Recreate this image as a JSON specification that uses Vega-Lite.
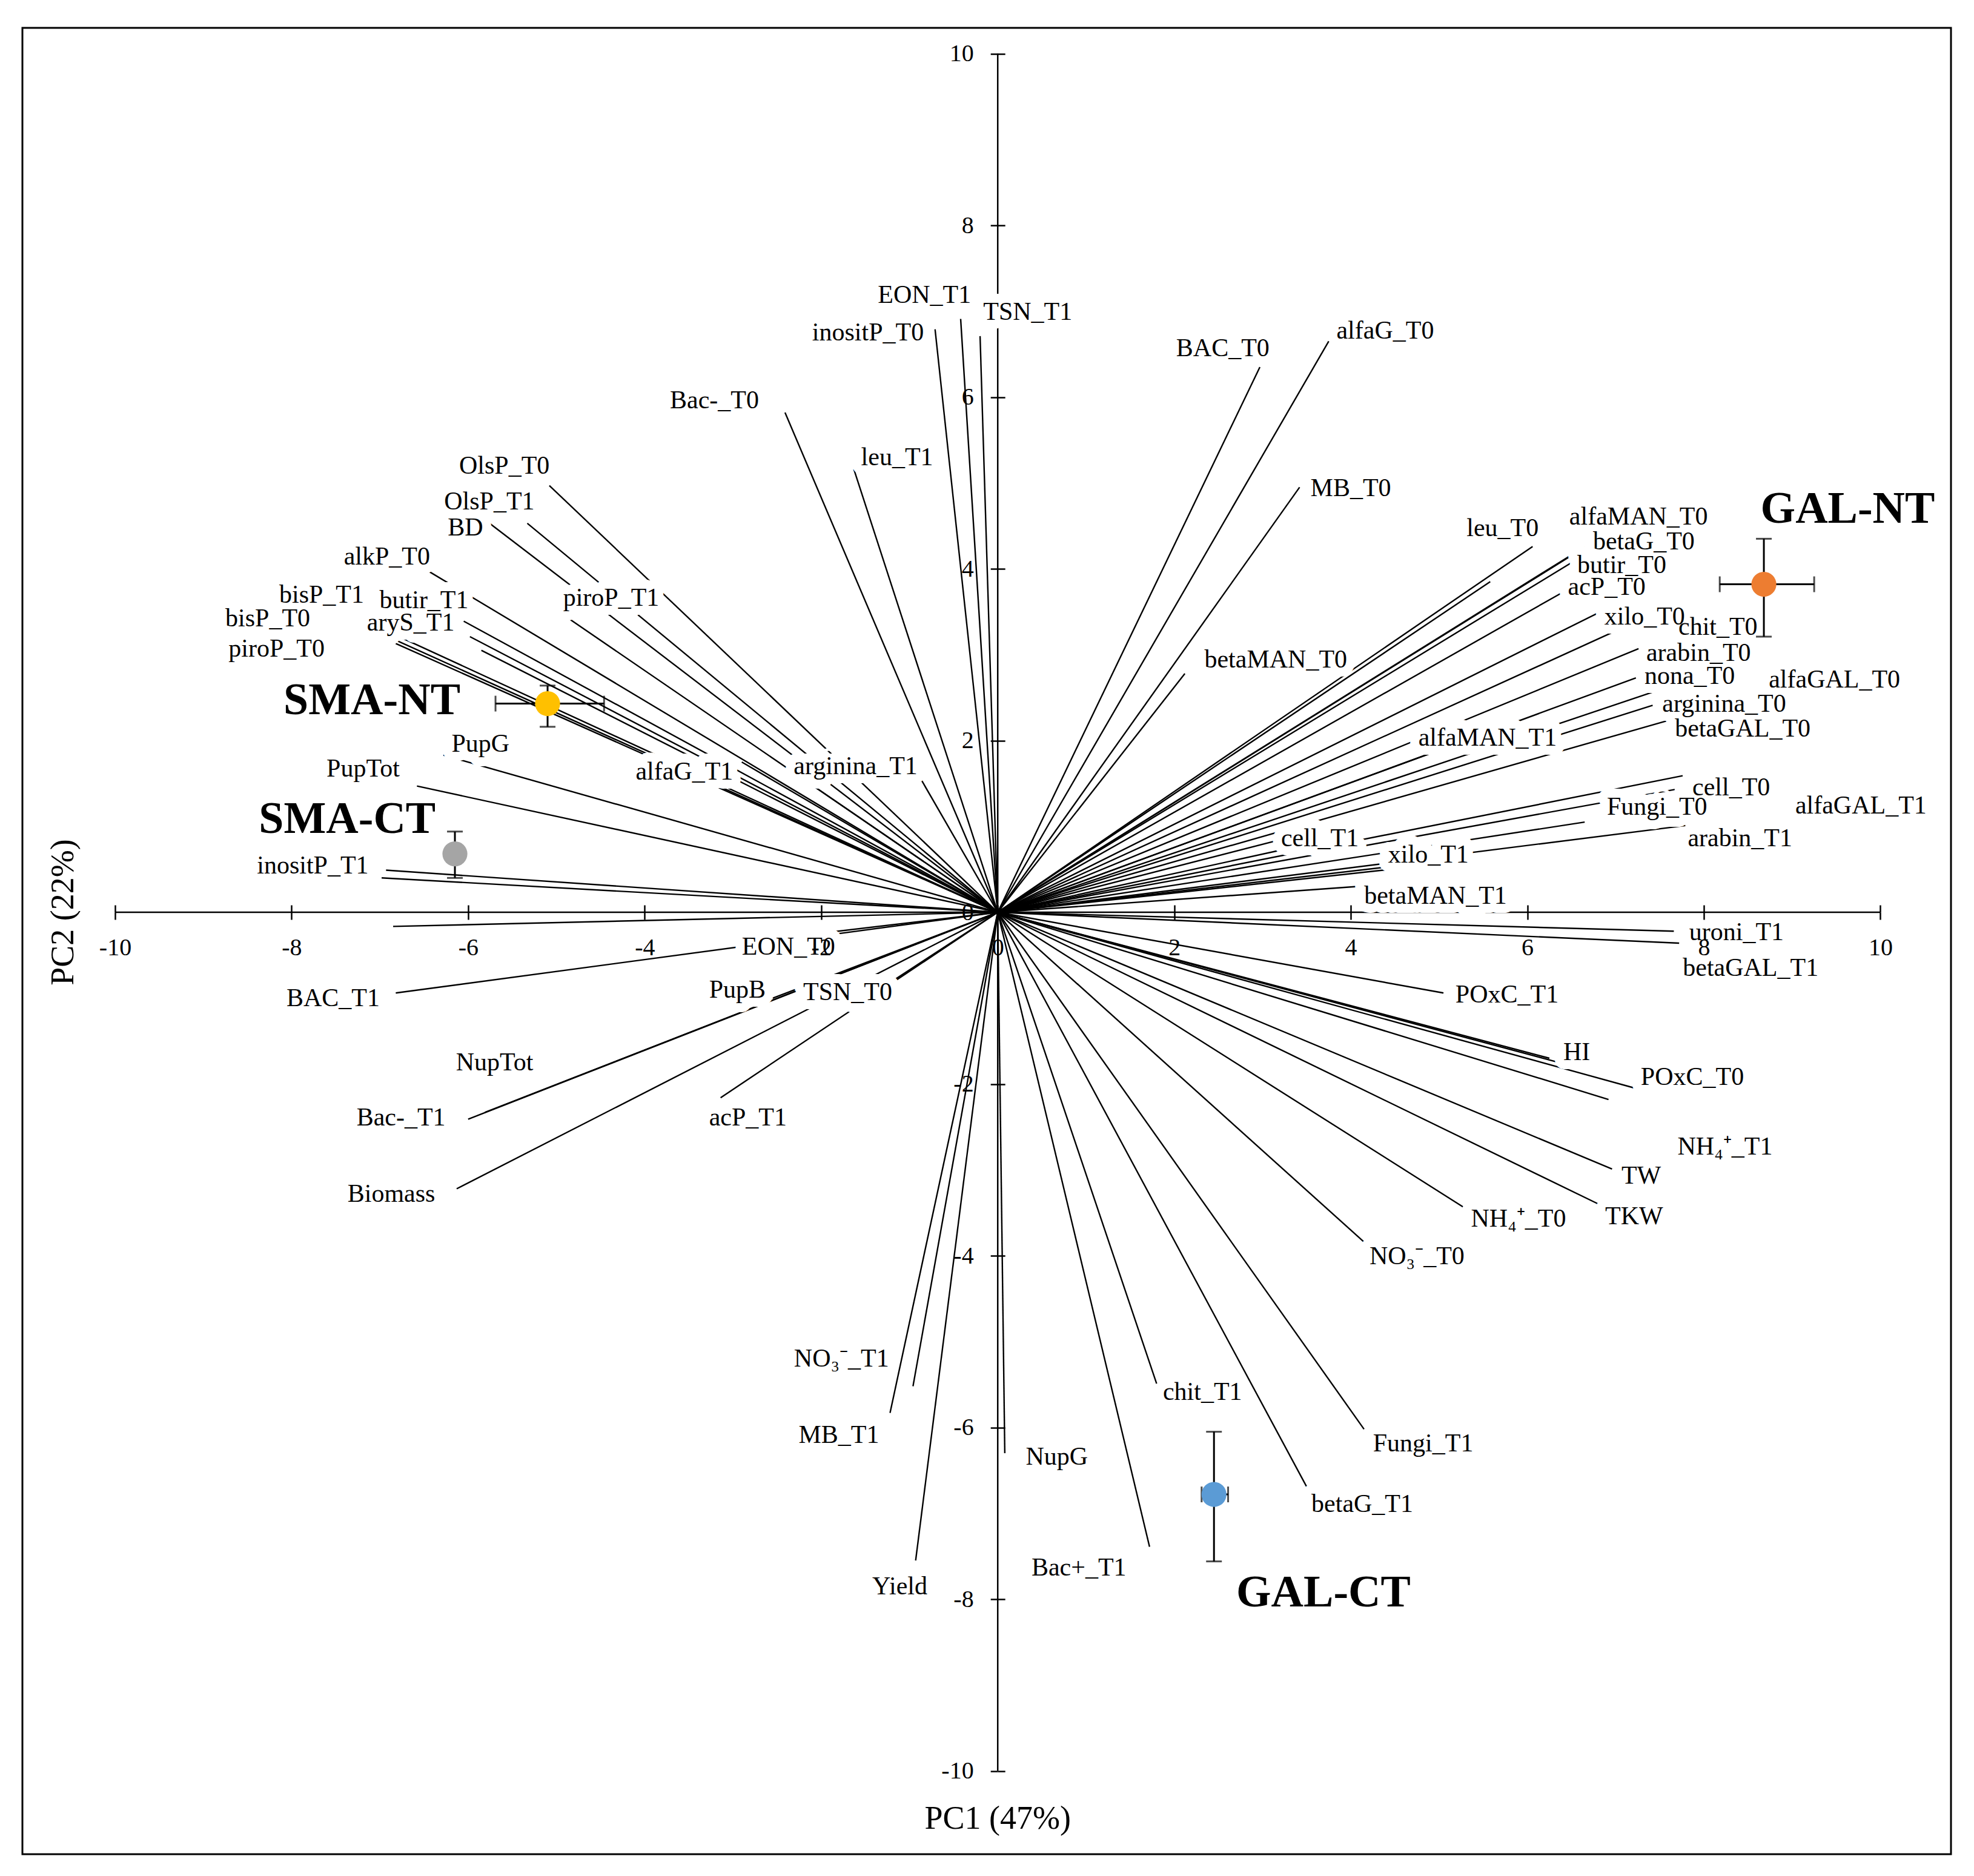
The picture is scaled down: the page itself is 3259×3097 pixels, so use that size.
{
  "$schema": "https://vega.github.io/schema/vega-lite/v6.json",
  "width": 3184,
  "height": 3015,
  "autosize": {"type": "none"},
  "padding": {"left": 37, "top": 46, "right": 38, "bottom": 36},
  "background": "white",
  "config": {
    "view": {"stroke": "black", "strokeWidth": 3},
    "font": "Liberation Serif",
    "axis": {"domain": false, "grid": false, "ticks": true, "tickSize": 12, "tickWidth": 2.5, "tickColor": "black", "labelFont": "Liberation Serif", "labelFontSize": 40, "labelColor": "black", "title": null, "labelOverlap": false, "labelFlush": false, "labelBound": false, "zindex": 2}
  },
  "resolve": {"axis": {"x": "independent", "y": "independent"}},
  "datasets": {
    "axislines": [
      {"x1": -10, "x2": 10, "y1": 0, "y2": 0},
      {"x1": 0, "x2": 0, "y1": -10, "y2": 10}
    ],
    "titles": [
      {"title": "PC1 (47%)", "x": 0, "y": -10.56, "angle": 0},
      {"title": "PC2 (22%)", "x": -10.58, "y": 0, "angle": 270}
    ],
    "vectors": [
      {"var": "OlsP_T0", "x": -5.08, "y": 4.97},
      {"var": "OlsP_T1", "x": -5.33, "y": 4.53},
      {"var": "BD", "x": -5.77, "y": 4.54},
      {"var": "alkP_T0", "x": -6.51, "y": 4.01},
      {"var": "bisP_T1", "x": -6.74, "y": 3.19},
      {"var": "bisP_T0", "x": -6.80, "y": 3.16},
      {"var": "piroP_T0", "x": -6.82, "y": 3.13},
      {"var": "butir_T1", "x": -6.05, "y": 3.39},
      {"var": "aryS_T1", "x": -5.98, "y": 3.21},
      {"var": "unlabelled_1", "x": -5.85, "y": 3.05},
      {"var": "piroP_T1", "x": -4.93, "y": 3.47},
      {"var": "PupG", "x": -6.28, "y": 1.83},
      {"var": "PupTot", "x": -6.58, "y": 1.47},
      {"var": "alfaG_T1", "x": -2.90, "y": 1.75},
      {"var": "unlabelled_2", "x": -2.30, "y": 1.62},
      {"var": "arginina_T1", "x": -0.87, "y": 1.55},
      {"var": "inositP_T1", "x": -6.93, "y": 0.49},
      {"var": "unlabelled_3", "x": -6.98, "y": 0.40},
      {"var": "Bac-_T0", "x": -2.41, "y": 5.82},
      {"var": "leu_T1", "x": -1.63, "y": 5.16},
      {"var": "inositP_T0", "x": -0.71, "y": 6.79},
      {"var": "EON_T1", "x": -0.42, "y": 6.91},
      {"var": "TSN_T1", "x": -0.20, "y": 6.71},
      {"var": "BAC_T0", "x": 2.97, "y": 6.35},
      {"var": "alfaG_T0", "x": 3.75, "y": 6.65},
      {"var": "MB_T0", "x": 3.42, "y": 4.95},
      {"var": "betaMAN_T0", "x": 2.12, "y": 2.78},
      {"var": "leu_T0", "x": 6.06, "y": 4.26},
      {"var": "unlabelled_4", "x": 5.58, "y": 3.85},
      {"var": "alfaMAN_T0", "x": 6.65, "y": 4.25},
      {"var": "betaG_T0", "x": 6.56, "y": 4.20},
      {"var": "butir_T0", "x": 6.53, "y": 4.09},
      {"var": "acP_T0", "x": 6.39, "y": 3.72},
      {"var": "xilo_T0", "x": 6.81, "y": 3.49},
      {"var": "chit_T0", "x": 7.03, "y": 3.29},
      {"var": "arabin_T0", "x": 7.26, "y": 3.07},
      {"var": "nona_T0", "x": 7.23, "y": 2.73},
      {"var": "alfaGAL_T0", "x": 7.44, "y": 2.57},
      {"var": "arginina_T0", "x": 7.42, "y": 2.41},
      {"var": "betaGAL_T0", "x": 7.65, "y": 2.25},
      {"var": "alfaMAN_T1", "x": 5.30, "y": 2.00},
      {"var": "cell_T0", "x": 7.76, "y": 1.59},
      {"var": "alfaGAL_T1", "x": 7.67, "y": 1.43},
      {"var": "Fungi_T0", "x": 6.65, "y": 1.05},
      {"var": "arabin_T1", "x": 7.79, "y": 1.01},
      {"var": "cell_T1", "x": 3.60, "y": 0.95},
      {"var": "unlabelled_5", "x": 3.90, "y": 0.88},
      {"var": "xilo_T1", "x": 4.60, "y": 0.55},
      {"var": "unlabelled_6", "x": 4.45, "y": 0.50},
      {"var": "betaMAN_T1", "x": 4.07, "y": 0.30},
      {"var": "uroni_T1", "x": 7.66, "y": -0.22},
      {"var": "betaGAL_T1", "x": 7.72, "y": -0.36},
      {"var": "POxC_T1", "x": 5.05, "y": -0.94},
      {"var": "HI", "x": 6.36, "y": -1.75},
      {"var": "unlabelled_7", "x": 6.25, "y": -1.70},
      {"var": "POxC_T0", "x": 7.26, "y": -2.06},
      {"var": "NH4+_T1", "x": 6.92, "y": -2.18},
      {"var": "TW", "x": 6.96, "y": -2.99},
      {"var": "TKW", "x": 6.81, "y": -3.40},
      {"var": "NH4+_T0", "x": 5.27, "y": -3.43},
      {"var": "NO3-_T0", "x": 4.15, "y": -3.84},
      {"var": "chit_T1", "x": 1.80, "y": -5.49},
      {"var": "Fungi_T1", "x": 4.15, "y": -6.02},
      {"var": "betaG_T1", "x": 3.51, "y": -6.71},
      {"var": "Bac+_T1", "x": 1.72, "y": -7.39},
      {"var": "NupG", "x": 0.08, "y": -6.30},
      {"var": "EON_T0", "x": -2.30, "y": -0.28},
      {"var": "unlabelled_8", "x": -6.85, "y": -0.165},
      {"var": "BAC_T1", "x": -6.82, "y": -0.94},
      {"var": "PupB", "x": -2.55, "y": -1.00},
      {"var": "TSN_T0", "x": -1.25, "y": -0.84},
      {"var": "NupTot", "x": -5.81, "y": -2.33},
      {"var": "Bac-_T1", "x": -6.00, "y": -2.41},
      {"var": "Biomass", "x": -6.13, "y": -3.22},
      {"var": "acP_T1", "x": -3.14, "y": -2.16},
      {"var": "NO3-_T1", "x": -0.96, "y": -5.52},
      {"var": "MB_T1", "x": -1.22, "y": -5.83},
      {"var": "Yield", "x": -0.93, "y": -7.55}
    ],
    "labels": [
      {"label": "OlsP_T0", "x": -5.59, "y": 5.20},
      {"label": "OlsP_T1", "x": -5.76, "y": 4.78},
      {"label": "BD", "x": -6.03, "y": 4.48},
      {"label": "alkP_T0", "x": -6.92, "y": 4.14},
      {"label": "bisP_T1", "x": -7.66, "y": 3.70},
      {"label": "butir_T1", "x": -6.50, "y": 3.63},
      {"label": "bisP_T0", "x": -8.27, "y": 3.42},
      {"label": "aryS_T1", "x": -6.65, "y": 3.37},
      {"label": "piroP_T0", "x": -8.17, "y": 3.07},
      {"label": "piroP_T1", "x": -4.38, "y": 3.66},
      {"label": "PupG", "x": -5.86, "y": 1.96},
      {"label": "PupTot", "x": -7.19, "y": 1.67},
      {"label": "alfaG_T1", "x": -3.55, "y": 1.64},
      {"label": "arginina_T1", "x": -1.61, "y": 1.70},
      {"label": "inositP_T1", "x": -7.76, "y": 0.54},
      {"label": "Bac-_T0", "x": -3.21, "y": 5.96},
      {"label": "leu_T1", "x": -1.14, "y": 5.30},
      {"label": "inositP_T0", "x": -1.47, "y": 6.75},
      {"label": "EON_T1", "x": -0.83, "y": 7.19},
      {"label": "TSN_T1", "x": 0.34, "y": 6.99},
      {"label": "BAC_T0", "x": 2.55, "y": 6.57},
      {"label": "alfaG_T0", "x": 4.39, "y": 6.77},
      {"label": "MB_T0", "x": 4.00, "y": 4.94},
      {"label": "leu_T0", "x": 5.72, "y": 4.47},
      {"label": "alfaMAN_T0", "x": 7.26, "y": 4.61},
      {"label": "betaG_T0", "x": 7.32, "y": 4.32},
      {"label": "butir_T0", "x": 7.07, "y": 4.04},
      {"label": "acP_T0", "x": 6.90, "y": 3.79},
      {"label": "xilo_T0", "x": 7.33, "y": 3.44},
      {"label": "chit_T0", "x": 8.16, "y": 3.32},
      {"label": "betaMAN_T0", "x": 3.15, "y": 2.94},
      {"label": "arabin_T0", "x": 7.94, "y": 3.02},
      {"label": "nona_T0", "x": 7.84, "y": 2.75},
      {"label": "alfaGAL_T0", "x": 9.48, "y": 2.71},
      {"label": "arginina_T0", "x": 8.23, "y": 2.43},
      {"label": "betaGAL_T0", "x": 8.44, "y": 2.14},
      {"label": "alfaMAN_T1", "x": 5.55, "y": 2.03},
      {"label": "cell_T0", "x": 8.31, "y": 1.45},
      {"label": "Fungi_T0", "x": 7.47, "y": 1.23},
      {"label": "alfaGAL_T1", "x": 9.78, "y": 1.24},
      {"label": "cell_T1", "x": 3.65, "y": 0.86},
      {"label": "arabin_T1", "x": 8.41, "y": 0.86},
      {"label": "xilo_T1", "x": 4.88, "y": 0.67},
      {"label": "betaMAN_T1", "x": 4.96, "y": 0.19},
      {"label": "uroni_T1", "x": 8.37, "y": -0.23},
      {"label": "betaGAL_T1", "x": 8.53, "y": -0.65},
      {"label": "POxC_T1", "x": 5.77, "y": -0.96},
      {"label": "HI", "x": 6.56, "y": -1.63},
      {"label": "POxC_T0", "x": 7.87, "y": -1.92},
      {"label": "NH₄⁺_T1", "x": 8.24, "y": -2.73},
      {"label": "TW", "x": 7.29, "y": -3.07},
      {"label": "TKW", "x": 7.21, "y": -3.54},
      {"label": "NH₄⁺_T0", "x": 5.90, "y": -3.57},
      {"label": "NO₃⁻_T0", "x": 4.75, "y": -4.01},
      {"label": "chit_T1", "x": 2.32, "y": -5.59},
      {"label": "Fungi_T1", "x": 4.82, "y": -6.19},
      {"label": "betaG_T1", "x": 4.13, "y": -6.89},
      {"label": "Bac+_T1", "x": 0.92, "y": -7.63},
      {"label": "NupG", "x": 0.67, "y": -6.34},
      {"label": "EON_T0", "x": -2.37, "y": -0.40},
      {"label": "BAC_T1", "x": -7.53, "y": -1.00},
      {"label": "PupB", "x": -2.95, "y": -0.90},
      {"label": "TSN_T0", "x": -1.70, "y": -0.93},
      {"label": "NupTot", "x": -5.70, "y": -1.75},
      {"label": "Bac-_T1", "x": -6.76, "y": -2.39},
      {"label": "acP_T1", "x": -2.83, "y": -2.39},
      {"label": "Biomass", "x": -6.87, "y": -3.28},
      {"label": "NO₃⁻_T1", "x": -1.77, "y": -5.20},
      {"label": "MB_T1", "x": -1.80, "y": -6.09},
      {"label": "Yield", "x": -1.11, "y": -7.85}
    ],
    "groups": [
      {"group": "SMA-NT", "x": -5.10, "y": 2.43, "xlo": -5.69, "xhi": -4.46, "ylo": 2.16, "yhi": 2.64, "lx": -7.09, "ly": 2.46},
      {"group": "SMA-CT", "x": -6.15, "y": 0.68, "xlo": -6.24, "xhi": -6.06, "ylo": 0.40, "yhi": 0.94, "lx": -7.37, "ly": 1.08},
      {"group": "GAL-NT", "x": 8.68, "y": 3.82, "xlo": 8.18, "xhi": 9.25, "ylo": 3.21, "yhi": 4.35, "lx": 9.63, "ly": 4.69},
      {"group": "GAL-CT", "x": 2.45, "y": -6.78, "xlo": 2.31, "xhi": 2.61, "ylo": -7.56, "yhi": -6.05, "lx": 3.69, "ly": -7.93}
    ]
  },
  "layer": [
    {
      "data": {"name": "axislines"},
      "mark": {"type": "rule", "color": "black", "strokeWidth": 2.5},
      "encoding": {
        "x": {"field": "x1", "type": "quantitative", "scale": {"domain": [-11.05, 10.8], "nice": false, "zero": false}, "axis": null},
        "x2": {"field": "x2"},
        "y": {"field": "y1", "type": "quantitative", "scale": {"domain": [-10.97, 10.3], "nice": false, "zero": false}, "axis": null},
        "y2": {"field": "y2"}
      }
    },
    {
      "data": {"name": "vectors"},
      "mark": {"type": "rule", "color": "black", "strokeWidth": 2.4},
      "encoding": {
        "x": {"field": "x", "type": "quantitative", "axis": {"orient": "bottom", "offset": -1555, "labelPadding": 26, "zindex": 3, "values": [-10, -8, -6, -4, -2, 0, 2, 4, 6, 8, 10], "labelExpr": "replace(datum.label, '−', '-')"}},
        "x2": {"datum": 0},
        "y": {"field": "y", "type": "quantitative", "axis": {"orient": "left", "offset": -1610.2, "labelPadding": 28, "zindex": 3, "values": [-10, -8, -6, -4, -2, 0, 2, 4, 6, 8, 10], "labelExpr": "replace(datum.label, '−', '-')"}},
        "y2": {"datum": 0}
      }
    },
    {
      "data": {"name": "labels"},
      "mark": {"type": "text", "font": "Liberation Serif", "fontSize": 42, "fill": "white", "stroke": "white", "strokeWidth": 30, "strokeJoin": "round", "align": "center", "baseline": "middle"},
      "encoding": {
        "x": {"field": "x", "type": "quantitative", "axis": null},
        "y": {"field": "y", "type": "quantitative", "axis": null},
        "text": {"field": "label"}
      }
    },
    {
      "data": {"name": "labels"},
      "mark": {"type": "text", "font": "Liberation Serif", "fontSize": 42, "color": "black", "align": "center", "baseline": "middle"},
      "encoding": {
        "x": {"field": "x", "type": "quantitative", "axis": null},
        "y": {"field": "y", "type": "quantitative", "axis": null},
        "text": {"field": "label"}
      }
    },
    {
      "data": {"name": "groups"},
      "mark": {"type": "rule", "color": "black", "strokeWidth": 3},
      "encoding": {
        "x": {"field": "xlo", "type": "quantitative", "axis": null},
        "x2": {"field": "xhi"},
        "y": {"field": "y", "type": "quantitative", "axis": null}
      }
    },
    {
      "data": {"name": "groups"},
      "mark": {"type": "rule", "color": "black", "strokeWidth": 3},
      "encoding": {
        "x": {"field": "x", "type": "quantitative", "axis": null},
        "y": {"field": "ylo", "type": "quantitative", "axis": null},
        "y2": {"field": "yhi"}
      }
    },
    {
      "data": {"name": "groups"},
      "mark": {"type": "tick", "orient": "vertical", "color": "black", "thickness": 3, "size": 26},
      "encoding": {
        "x": {"field": "xlo", "type": "quantitative", "axis": null},
        "y": {"field": "y", "type": "quantitative", "axis": null}
      }
    },
    {
      "data": {"name": "groups"},
      "mark": {"type": "tick", "orient": "vertical", "color": "black", "thickness": 3, "size": 26},
      "encoding": {
        "x": {"field": "xhi", "type": "quantitative", "axis": null},
        "y": {"field": "y", "type": "quantitative", "axis": null}
      }
    },
    {
      "data": {"name": "groups"},
      "mark": {"type": "tick", "orient": "horizontal", "color": "black", "thickness": 3, "size": 26},
      "encoding": {
        "x": {"field": "x", "type": "quantitative", "axis": null},
        "y": {"field": "ylo", "type": "quantitative", "axis": null}
      }
    },
    {
      "data": {"name": "groups"},
      "mark": {"type": "tick", "orient": "horizontal", "color": "black", "thickness": 3, "size": 26},
      "encoding": {
        "x": {"field": "x", "type": "quantitative", "axis": null},
        "y": {"field": "yhi", "type": "quantitative", "axis": null}
      }
    },
    {
      "data": {"name": "groups"},
      "mark": {"type": "point", "shape": "circle", "filled": true, "opacity": 1, "size": 1700},
      "encoding": {
        "x": {"field": "x", "type": "quantitative", "axis": {"orient": "top", "offset": -1460, "labels": false, "values": [-10, -8, -6, -4, -2, 0, 2, 4, 6, 8, 10]}},
        "y": {"field": "y", "type": "quantitative", "axis": {"orient": "right", "offset": -1573.8, "labels": false, "values": [-10, -8, -6, -4, -2, 0, 2, 4, 6, 8, 10]}},
        "color": {"field": "group", "type": "nominal", "scale": {"domain": ["SMA-NT", "SMA-CT", "GAL-NT", "GAL-CT"], "range": ["#FFC000", "#A5A5A5", "#ED7D31", "#5B9BD5"]}, "legend": null}
      }
    },
    {
      "data": {"name": "groups"},
      "mark": {"type": "text", "font": "Liberation Serif", "fontSize": 74, "fontWeight": "bold", "color": "black", "align": "center", "baseline": "middle"},
      "encoding": {
        "x": {"field": "lx", "type": "quantitative", "axis": null},
        "y": {"field": "ly", "type": "quantitative", "axis": null},
        "text": {"field": "group"}
      }
    },
    {
      "data": {"name": "titles"},
      "mark": {"type": "text", "font": "Liberation Serif", "fontSize": 54, "color": "black", "align": "center", "baseline": "middle"},
      "encoding": {
        "x": {"field": "x", "type": "quantitative", "axis": null},
        "y": {"field": "y", "type": "quantitative", "axis": null},
        "angle": {"field": "angle", "type": "quantitative", "scale": null},
        "text": {"field": "title"}
      }
    }
  ]
}
